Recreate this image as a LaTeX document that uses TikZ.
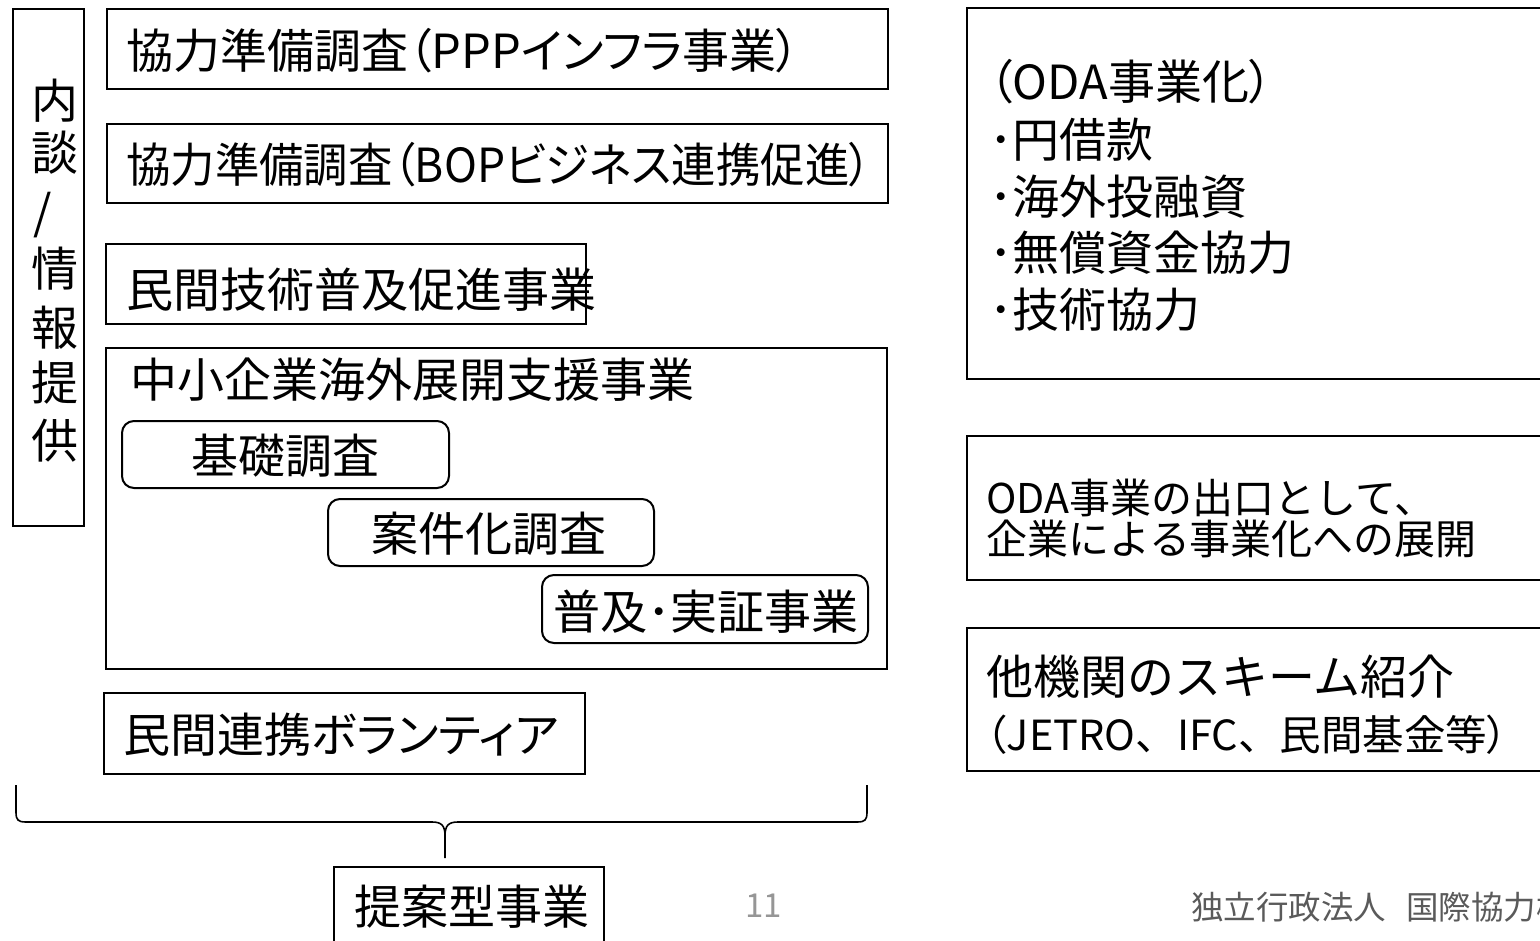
\documentclass[tikz,border=0pt]{standalone}
\usepackage{fontspec}
\setmainfont{Noto Sans CJK JP}
\newfontfamily\jpp[RawFeature=+palt]{Noto Sans CJK JP}
\definecolor{footgray}{RGB}{90,90,90}
\definecolor{pagegray}{RGB}{150,150,150}
\begin{document}
\begin{tikzpicture}[x=1pt,y=-1pt,
  box/.style={draw, line width=2pt, inner sep=0pt, rectangle, anchor=north west},
  rbox/.style={box, rounded corners=12pt},
  txt/.style={inner sep=0pt, anchor=base west},
  ctxt/.style={inner sep=0pt, anchor=base},
  fbig/.style={font=\fontsize{47}{50}\selectfont},
  fmid/.style={font=\fontsize{41}{45}\selectfont},
  fsm/.style={font=\fontsize{41.5}{45}\selectfont},
  brace/.style={line width=1.6pt},
]
\useasboundingbox (0,0) rectangle (1540,941);
\clip (0,0) rectangle (1540,941);
\fill[white] (0,0) rectangle (1540,941);

% boxes
\node[box, minimum width=71pt, minimum height=517pt] (side) at (12,8) {};
\node[box, minimum width=781pt, minimum height=80pt] (b1) at (106,8) {};
\node[box, minimum width=781pt, minimum height=79pt] (b2) at (106,123) {};
\node[box, minimum width=480pt, minimum height=80pt] (b3) at (105,243) {};
\node[box, minimum width=781pt, minimum height=321pt] (b4) at (105,347) {};
\node[rbox, minimum width=327pt, minimum height=67pt] (s1) at (121,420) {};
\node[rbox, minimum width=326pt, minimum height=67pt] (s2) at (327,498) {};
\node[rbox, minimum width=326pt, minimum height=68pt] (s3) at (541,574) {};
\node[box, minimum width=481pt, minimum height=81pt] (b5) at (103,692) {};
\node[box, minimum width=270pt, minimum height=100pt] (prop) at (333,866) {};
\node[box, minimum width=600pt, minimum height=371pt] (R1) at (966,7) {};
\node[box, minimum width=600pt, minimum height=144pt] (R2) at (966,435) {};
\node[box, minimum width=600pt, minimum height=143pt] (R3) at (966,627) {};

% side column
\node[txt, fbig] (v1) at (31,118.5) {内};
\node[txt, fbig] (v2) at (31,170.5) {談};
\node[txt, fbig] (v3) at (33,229.5) {/};
\node[txt, fbig] (v4) at (31,286.5) {情};
\node[txt, fbig] (v5) at (31,345.5) {報};
\node[txt, fbig] (v6) at (31,400.5) {提};
\node[txt, fbig] (v7) at (31,458.5) {供};

% left texts
\node[txt, fbig] (t1) at (126,68.5) {\jpp 協力準備調査（PPPインフラ事業）};
\node[txt, fbig] (t2) at (126,182.5) {\scalebox{0.945}[1]{\jpp 協力準備調査（BOPビジネス連携促進）}};
\node[txt, fbig] (t3) at (126,307.5) {民間技術普及促進事業};
\node[txt, fbig] (t4) at (130,397.5) {中小企業海外展開支援事業};
\node[ctxt, fbig] (t5) at (285,473.5) {基礎調査};
\node[ctxt, fbig] (t6) at (489,551.5) {案件化調査};
\node[ctxt, fbig] (t7) at (706,629.5) {普及･実証事業};
\node[txt, fbig] (t8) at (123,752.5) {\jpp 民間連携ボランティア};
\node[ctxt, fbig] (t9) at (472,924.5) {提案型事業};

% right texts
\node[txt, fbig] (r1a) at (989,99.5) {\jpp （ODA事業化）};
\node[txt, fbig] (r1b) at (989,157.5) {･円借款};
\node[txt, fbig] (r1c) at (989,214.5) {･海外投融資};
\node[txt, fbig] (r1d) at (989,270.5) {･無償資金協力};
\node[txt, fbig] (r1e) at (989,327.5) {･技術協力};
\node[txt, fmid] (r2a) at (986,513.6) {ODA事業の出口として、};
\node[txt, fmid] (r2b) at (986,554.5) {企業による事業化への展開};
\node[txt, fbig] (r3a) at (986,694.5) {他機関のスキーム紹介};
\node[txt, fsm] (r3b) at (986,750) {{\jpp （}JETRO、IFC、民間基金等{\jpp ）}};

% footer
\node[txt, font=\fontsize{33}{35}\selectfont, text=pagegray] (pg) at (745,917) {11};
\node[txt, font=\fontsize{32.5}{35}\selectfont, text=footgray] (ft) at (1191,919) {独立行政法人\hspace{20pt}国際協力機構};

% brace
\coordinate (bl) at (16,785);
\coordinate (br) at (867,785);
\coordinate (tip) at (445,858);
\draw[brace] (bl) -- (16,812) .. controls (16,820) and (18,822) .. (26,822) -- (432,822) .. controls (442,822) and (445,826) .. (445,836) -- (tip);
\draw[brace] (br) -- (867,812) .. controls (867,820) and (865,822) .. (857,822) -- (458,822) .. controls (448,822) and (445,826) .. (445,836);
\end{tikzpicture}
\end{document}
